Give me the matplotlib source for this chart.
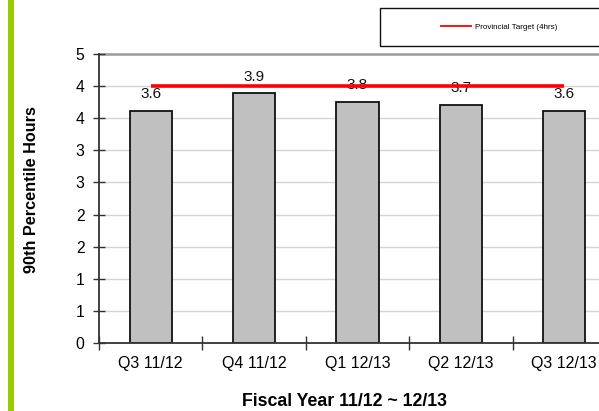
import matplotlib
matplotlib.use("Agg")
import matplotlib.pyplot as plt
from matplotlib.patches import Rectangle
import numpy as np

plt.rcParams['font.family'] = ['Liberation Sans', 'DejaVu Sans']

# Data
quarters = ["Q3 11/12", "Q4 11/12", "Q1 12/13", "Q2 12/13", "Q3 12/13"]
hours_90th = [3.62, 3.89, 3.76, 3.71, 3.61]
target_hours = 4.0
target_label = "Provincial Target (4hrs)"
y_ticks = [0, 0.5, 1.0, 1.5, 2.0, 2.5, 3.0, 3.5, 4.0, 4.5]

W, H = 599, 411
fig = plt.figure(figsize=(W / 100, H / 100), dpi=100)
fig.patch.set_facecolor("white")

# Green accent stripe on the left
fig.add_artist(Rectangle((8 / W, 0), 6 / W, 1, transform=fig.transFigure,
                         facecolor="#99CC00", edgecolor="none", zorder=0))

left, right = 99 / W, 616 / W
bottom, top = (H - 343) / H, (H - 54) / H
ax = fig.add_axes([left, bottom, right - left, top - bottom])

x = np.arange(1, len(quarters) + 1)
ax.bar(x, hours_90th, width=0.41, color="#C0C0C0", edgecolor="#111111",
       linewidth=1.3, zorder=2)

for xi, v in zip(x, hours_90th):
    ax.annotate(f"{v:.1f}", (xi, v), xytext=(0, 12), textcoords="offset points",
                ha="center", va="center", fontsize=11, color="#111111", zorder=3)

target_line, = ax.plot([x[0], x[-1]], [target_hours, target_hours], color="#FF0000",
                       linewidth=2.6, solid_capstyle="butt", zorder=4,
                       label=target_label)

ax.set_xlim(0.5, len(quarters) + 0.5)
ax.set_ylim(0, 4.5)

# Y axis: half-hour steps, labels rounded to whole hours
ax.set_yticks(y_ticks)
ax.set_yticklabels([str(int(np.floor(t + 0.5))) for t in y_ticks])
ax.tick_params(axis="y", direction="inout", length=9, width=1, color="#333333",
               labelsize=11.3, pad=6)
for t in y_ticks[1:-1]:
    ax.axhline(t, color="#D4D4D4", linewidth=1, zorder=1)
ax.axhline(4.5, color="#999999", linewidth=1.8, zorder=1, clip_on=False)

ax.set_xticks(x)
ax.set_xticklabels(quarters)
ax.set_xticks(np.arange(0.5, len(quarters) + 1, 1.0), minor=True)
ax.tick_params(axis="x", which="major", length=0, labelsize=11.5, pad=9)
ax.tick_params(axis="x", which="minor", direction="inout", length=10, width=1,
               color="#333333")

for s in ["top", "right"]:
    ax.spines[s].set_visible(False)
for s in ["left", "bottom"]:
    ax.spines[s].set_color("#333333")
    ax.spines[s].set_linewidth(1.3)

fig.text(345 / W, 1 - 401 / H, "Fiscal Year 11/12 ~ 12/13", ha="center",
         va="center", fontsize=12.8, fontweight="bold")
fig.text(32 / W, 1 - 190 / H, "90th Percentile Hours", ha="center", va="center",
         rotation=90, fontsize=11.7, fontweight="bold")

# Legend box
fig.add_artist(Rectangle((380 / W, 1 - 46 / H), 240 / W, 38 / H,
                         transform=fig.transFigure, facecolor="white",
                         edgecolor="#111111", linewidth=1, zorder=5))
leg = fig.legend(handles=[target_line], loc="center left",
                 bbox_to_anchor=(440 / W, 1 - 27 / H), frameon=False,
                 fontsize=5.8, handlelength=4.0, handletextpad=0.3,
                 borderaxespad=0, borderpad=0)
leg.set_zorder(6)
for l in leg.get_lines():
    l.set_linewidth(1.3)

fig.savefig("out.png", dpi=100)
